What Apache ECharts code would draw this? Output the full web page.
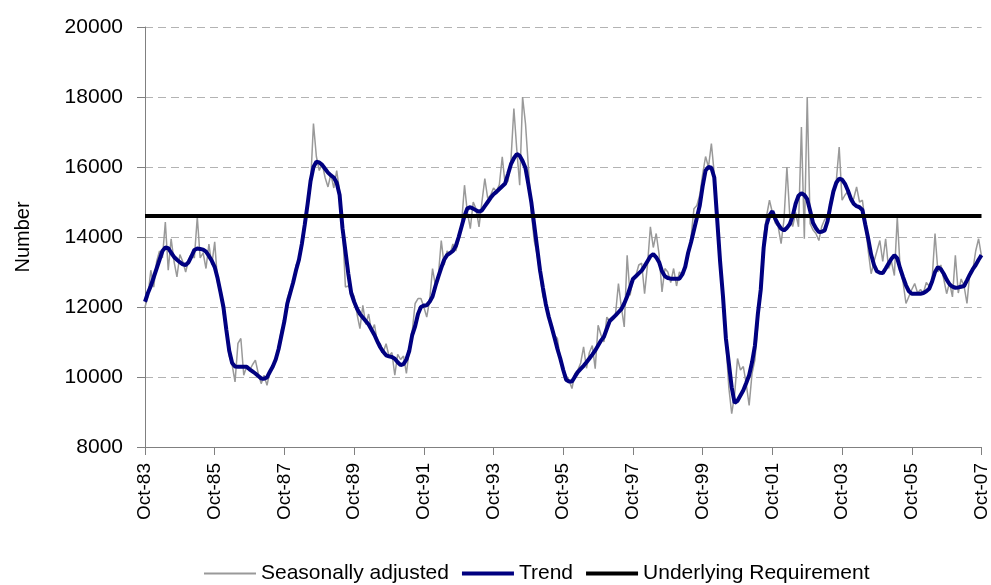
<!DOCTYPE html>
<html>
<head>
<meta charset="utf-8">
<script src="https://cdn.jsdelivr.net/npm/echarts@6/dist/echarts.min.js"></script>
<style>
    html, body { margin: 0; padding: 0; background: #fff; }
    #main { width: 991px; height: 585px; }
</style>
</head>
<body>
<div id="main"></div>
<script>
//趋势 (monthly, Oct-83 .. Oct-07)
var trend = [
    12150, 12400, 12600, 12850, 13100, 13350, 13600, 13700, 13680, 13550, 13430, 13350,
    13280, 13220, 13200, 13280, 13450, 13630, 13670, 13660, 13640, 13580, 13460, 13320,
    13140, 12820, 12420, 12000, 11350, 10750, 10400, 10300, 10290, 10290, 10290, 10290,
    10220, 10160, 10100, 10030, 9960, 9950, 9990, 10150, 10300, 10500, 10800, 11200,
    11600, 12100, 12400, 12700, 13050, 13350, 13800, 14350, 14950, 15600, 16000, 16150,
    16130, 16060, 15950, 15840, 15760, 15700, 15550, 15200, 14250, 13600, 12950, 12400,
    12150, 11950, 11800, 11700, 11600, 11500, 11350, 11200, 11020, 10850, 10720, 10620,
    10590, 10570, 10520, 10420, 10340, 10370, 10500, 10750, 11200, 11450, 11800, 12000,
    12040, 12050, 12150, 12300, 12600, 12870, 13120, 13350, 13480, 13540, 13600, 13740,
    14000, 14300, 14600, 14820, 14850, 14810, 14760, 14720, 14760, 14880, 15000, 15120,
    15220, 15290, 15370, 15450, 15530, 15800, 16080, 16250, 16370, 16320, 16170, 15970,
    15500, 15000, 14350, 13700, 13050, 12550, 12080, 11720, 11430, 11120, 10800, 10520,
    10200, 9920, 9870, 9870, 10010, 10140, 10230, 10320, 10420, 10530, 10640, 10760,
    10900, 11040, 11150, 11380, 11600, 11680, 11760, 11850, 11940, 12100, 12300, 12550,
    12800, 12880, 12960, 13040, 13170, 13310, 13450, 13510, 13420, 13280, 13020, 12880,
    12830, 12810, 12810, 12810, 12810, 12930, 13150, 13550, 13850, 14200, 14550, 14900,
    15450, 15900, 16000, 15980, 15700, 14500, 13300, 12300, 11100, 10400, 9700, 9260,
    9320, 9470, 9620, 9830, 10050, 10420, 10900, 11800, 12500, 13700, 14350, 14620,
    14740, 14520, 14360, 14240, 14190, 14260, 14370, 14600, 14950, 15180, 15250, 15200,
    15080, 14750, 14400, 14250, 14140, 14150, 14190, 14450, 14900, 15300, 15550, 15670,
    15640, 15520, 15330, 15100, 14950, 14880, 14850, 14770, 14350, 13950, 13500, 13200,
    13020, 12980, 12970, 13100, 13240, 13380, 13480, 13390, 13100, 12850, 12620, 12450,
    12380, 12380, 12380, 12380, 12400, 12450, 12520, 12730, 13000, 13140, 13080, 12950,
    12780, 12650, 12580, 12550, 12560, 12580, 12600, 12760, 12930, 13080, 13200, 13350,
    13480
];

//季节调整
var seasonal = [
    12000, 12300, 13050, 12570, 13300, 13600, 13400, 14430, 13050, 13950, 13300, 12860,
    13500, 13300, 13000, 13350, 13500, 13400, 14570, 13400, 13550, 13100, 13800, 13200,
    13860, 12700, 12400, 11800, 11300, 10600, 10350, 9860, 10960, 11100, 10050, 10300,
    10190, 10350, 10480, 10100, 9810, 10050, 9760, 10150, 10350, 10450, 10900, 11350,
    11550, 12250, 12500, 12600, 13200, 13300, 13900, 14500, 15000, 15500, 17240, 16300,
    15900, 16100, 15700, 15430, 15800, 15400, 15900, 15300, 14300, 12570, 12600, 12480,
    12300, 11800, 11380, 12050, 11500, 11800, 11300, 11500, 11000, 10950, 10700, 10950,
    10600, 10700, 10050, 10650, 10500, 10600, 10100, 10800, 11300, 12100, 12240, 12240,
    12000, 11710, 12200, 13100, 12600, 12900, 13900, 13200, 13600, 13500, 13800, 13600,
    13900, 14400, 15480, 14700, 14240, 15000, 14800, 14290, 15000, 15670, 15100, 15200,
    15400, 15300, 15500, 16290, 15500, 15600, 16200, 17670, 16500, 15480, 18000, 17240,
    16000, 14700, 13900, 13500, 12900, 12300, 12100, 11700, 11500, 11190, 11100, 10500,
    10200, 10050, 9900, 9670, 10100, 10200, 10400, 10860, 10250, 10700, 10900, 10240,
    11480, 11200, 11000, 11710, 11600, 11700, 11800, 12670, 12000, 11430, 13480, 12330,
    12800, 12900, 13200, 13250, 12380, 13200, 14290, 13700, 14100, 13500, 12430, 13100,
    13000, 12700, 13100, 12600, 13000, 12900, 13200, 13500, 14000, 14810, 14900, 15200,
    15800, 16300, 16000, 16670, 15800, 14600, 13400, 12400, 11000, 9700, 8950, 9500,
    10530, 10200, 10300, 9800, 9190, 10100, 10500, 11500, 12800, 14000, 14600, 15050,
    14700, 14400, 14300, 13810, 14500, 16000, 14600, 14300, 14700, 14290, 17140, 13950,
    18000, 14380, 14200, 14100, 13900, 14300, 14500, 14600, 15000, 15300, 15600, 16570,
    15050, 15200, 15300, 15000, 15100, 15430, 15000, 15050, 14400, 13600, 12950, 13300,
    13600, 13900, 13300, 13950, 13100, 13300, 12900, 14570, 13100, 12700, 12100, 12300,
    12500, 12670, 12400, 12500, 12400, 12700, 12600, 12800, 14100, 13000, 13200, 12800,
    12380, 12700, 12290, 13480, 12400, 12800, 12600, 12100, 13000, 13050, 13600, 13950,
    13450
];

//基本需求
var requirementLevel = 14600;

var seriesNames = ['Seasonally adjusted', 'Trend', 'Underlying Requirement'];
var monthNames = ['Jan', 'Feb', 'Mar', 'Apr', 'May', 'Jun', 'Jul', 'Aug', 'Sep', 'Oct', 'Nov', 'Dec'];

//月份标签
var months = [];
for (var i = 0; i < trend.length; i++) {
    var k = 9 + i;
    var yy = (83 + Math.floor(k / 12)) % 100;
    months.push(monthNames[k % 12] + '-' + (yy < 10 ? '0' : '') + yy);
}
var requirement = months.map(function () { return requirementLevel; });

var textFont = "'Liberation Sans', Arial, sans-serif";

function drawChart() {
    var dom = document.getElementById("main");
    var myChart = echarts.init(dom);
    option = null;
    option = {
        animation: false,
        backgroundColor: '#fff',
        grid: {
            left: 145,
            right: 5,
            top: 27,
            bottom: 138
        },
        legend: {
            left: 198,
            top: 558,
            itemWidth: 52,
            itemHeight: 14,
            itemGap: 11,
            textStyle: {
                fontFamily: textFont,
                fontSize: 21,
                color: '#000'
            },
            data: [
                { name: seriesNames[0], lineStyle: { width: 2 } },
                { name: seriesNames[1], lineStyle: { width: 4 } },
                { name: seriesNames[2], lineStyle: { width: 4 } }
            ]
        },
        xAxis: {
            type: 'category',
            boundaryGap: false,
            data: months,
            axisLine: { lineStyle: { color: '#808080', width: 1 } },
            axisTick: {
                interval: 23,
                length: 8,
                lineStyle: { color: '#808080' }
            },
            axisLabel: {
                interval: 23,
                rotate: 90,
                margin: 16,
                fontFamily: textFont,
                fontSize: 19,
                color: '#000'
            },
            splitLine: { show: false }
        },
        yAxis: {
            type: 'value',
            min: 8000,
            max: 20000,
            interval: 2000,
            name: 'Number',
            nameLocation: 'middle',
            nameRotate: 90,
            nameGap: 112,
            nameTextStyle: {
                fontFamily: textFont,
                fontSize: 20,
                color: '#000'
            },
            axisLine: { show: true, lineStyle: { color: '#808080', width: 1 } },
            axisTick: { show: true, length: 8, lineStyle: { color: '#808080' } },
            axisLabel: {
                margin: 22,
                fontFamily: textFont,
                fontSize: 21,
                color: '#000',
                formatter: function (v) { return String(v); }
            },
            splitLine: {
                show: true,
                lineStyle: { color: '#b3b3b3', type: [8, 5], width: 1 }
            }
        },
        series: [
            {
                name: seriesNames[0],
                type: 'line',
                symbol: 'none',
                data: seasonal,
                lineStyle: { color: '#999999', width: 1.5 },
                itemStyle: { color: 'rgba(0,0,0,0)', borderWidth: 0 }
            },
            {
                name: seriesNames[1],
                type: 'line',
                symbol: 'none',
                data: trend,
                lineStyle: { color: '#000080', width: 4 },
                itemStyle: { color: 'rgba(0,0,0,0)', borderWidth: 0 }
            },
            {
                name: seriesNames[2],
                type: 'line',
                symbol: 'none',
                data: requirement,
                lineStyle: { color: '#000000', width: 4 },
                itemStyle: { color: 'rgba(0,0,0,0)', borderWidth: 0 }
            }
        ]
    };
    if (option && typeof option === "object") {
        myChart.setOption(option, true);
    }
}
drawChart();
</script>
</body>
</html>
